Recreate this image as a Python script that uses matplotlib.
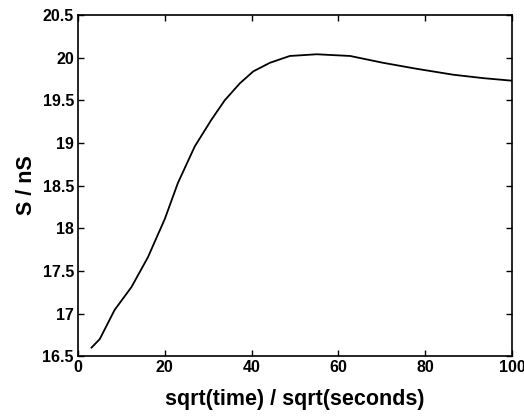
import numpy as np
import matplotlib.pyplot as plt

# values
sqrt_time = [3.1, 5.0, 8.4, 12.3, 16.1, 20.0, 23.0, 26.9, 30.7, 33.8, 37.3,
             40.4, 44.2, 48.8, 55.0, 62.7, 70.3, 78.0, 86.5, 93.4, 100.0]
conductance = [16.60, 16.70, 17.04, 17.31, 17.66, 18.11, 18.53, 18.96, 19.27,
               19.50, 19.70, 19.84, 19.94, 20.02, 20.04, 20.02, 19.94, 19.87,
               19.80, 19.76, 19.73]

plt.rcParams['font.family'] = ['Liberation Sans', 'DejaVu Sans']
plt.rcParams['font.weight'] = 'bold'

fig = plt.figure(figsize=(5.24, 4.18), dpi=100)
ax = fig.add_axes([0.149, 0.148, 0.828, 0.816])

ax.plot(sqrt_time, conductance, color='black', linewidth=1.3)

ax.set_xlim(0, 100)
ax.set_ylim(16.5, 20.5)
ax.set_xticks([0, 20, 40, 60, 80, 100])
ax.set_yticks(np.arange(16.5, 20.51, 0.5))
ax.set_yticklabels(['16.5', '17', '17.5', '18', '18.5', '19', '19.5', '20', '20.5'])
ax.tick_params(direction='in', top=True, right=True, length=4, labelsize=11.5, width=1, pad=3)
for side in ax.spines.values():
    side.set_linewidth(1.2)

ax.set_xlabel('sqrt(time) / sqrt(seconds)', fontsize=15.5, fontweight='bold', labelpad=10)
ax.set_ylabel('S / nS', fontsize=15.5, fontweight='bold', labelpad=4)

fig.savefig('out.png', dpi=100)
